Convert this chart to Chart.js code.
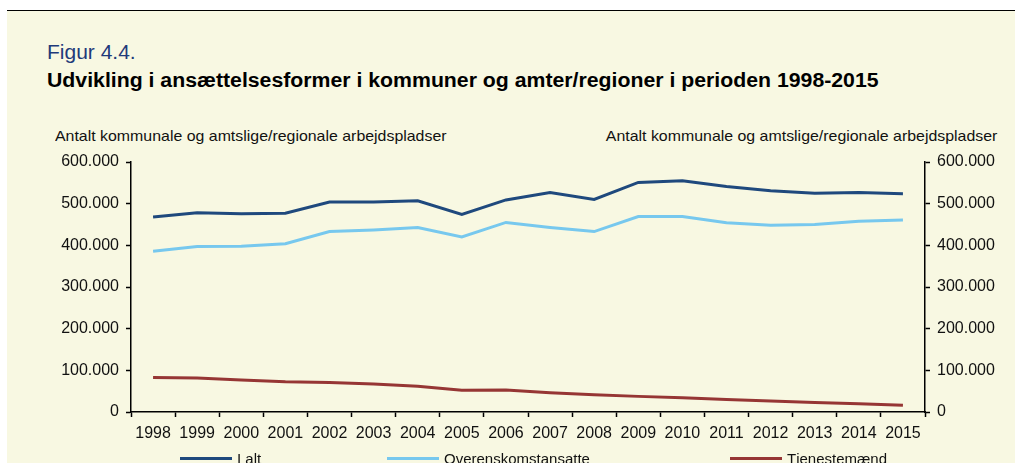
<!DOCTYPE html>
<html>
<head>
<meta charset="utf-8">
<script src="https://cdn.jsdelivr.net/npm/chart.js@4"></script>
<style>
  body { margin: 0; background: #fff; font-family: "Liberation Sans", Arial, sans-serif; }
  #topline { position: absolute; left: 7px; top: 10px; width: 1008px; height: 1px; background: #000; }
  #panel { position: absolute; left: 7px; top: 11px; width: 1008px; height: 452px; background: #f8f8e2; }
  .txt { position: absolute; white-space: nowrap; color: #000; line-height: normal; }
  #fig { left: 47px; top: 40px; font-size: 21px; color: #1f3a7a; }
  #title { left: 47px; top: 69px; font-size: 19.5px; font-weight: bold; transform: scaleX(1.09); transform-origin: left top; }
  .ytitle { top: 127px; font-size: 15px; color: #111; }
  #yl { left: 55px; transform: scaleX(1.06); transform-origin: left top; }
  #yr { right: 18px; transform: scaleX(1.06); transform-origin: right top; }
  #chart { position: absolute; left: 0; top: 0; }
  .leg { position: absolute; top: 450px; font-size: 15px; color: #111; }
  .leg i { display: inline-block; width: 52px; height: 3px; vertical-align: middle; margin-right: 5px; position: relative; top: -2px; }
</style>
</head>
<body>
<div id="topline"></div>
<div id="panel"></div>
<div class="txt" id="fig">Figur 4.4.</div>
<div class="txt" id="title">Udvikling i ansættelsesformer i kommuner og amter/regioner i perioden 1998-2015</div>
<div class="txt ytitle" id="yl">Antalt kommunale og amtslige/regionale arbejdspladser</div>
<div class="txt ytitle" id="yr">Antalt kommunale og amtslige/regionale arbejdspladser</div>
<canvas id="chart" width="1015" height="463"></canvas>
<div class="leg" style="left:180px"><i style="background:#1f497d"></i>I alt</div>
<div class="leg" style="left:387px"><i style="background:#77c8ee"></i>Overenskomstansatte</div>
<div class="leg" style="left:730px"><i style="background:#963634"></i>Tjenestemænd</div>
<script>
const years = ["1998","1999","2000","2001","2002","2003","2004","2005","2006","2007","2008","2009","2010","2011","2012","2013","2014","2015"];
const ialt = [468000, 478000, 476000, 477000, 504000, 504000, 507000, 474000, 509000, 527000, 510000, 551000, 555000, 541000, 531000, 525000, 527000, 524000];
const overens = [386000, 397000, 398000, 404000, 433000, 437000, 443000, 420000, 455000, 443000, 433000, 469000, 469000, 454000, 448000, 450000, 458000, 461000];
const tjeneste = [83000, 81500, 77000, 72500, 71000, 67000, 62000, 52000, 52500, 46000, 41500, 37500, 34000, 30000, 26500, 23000, 20000, 16000];
const yMax = 600000;
const yStep = 100000;

const fmt = v => v === 0 ? "0" : v.toLocaleString("de-DE");
const tickFont = { family: "Liberation Sans", size: 16 };

function yAxis(pos, w) {
  return {
    type: "linear",
    position: pos,
    min: 0,
    max: yMax,
    ticks: { stepSize: yStep, callback: fmt, font: tickFont, color: "#111", padding: 7 },
    grid: { drawOnChartArea: false, drawTicks: true, tickLength: 5, color: "#000", tickWidth: 1.5 },
    border: { display: true, color: "#000", width: 1.5 },
    afterFit(scale) { scale.width = w; scale.paddingTop = 0; scale.paddingBottom = 0; }
  };
}

const ds = (label, data, color) => ({
  label, data, borderColor: color, backgroundColor: color,
  borderWidth: 3, pointRadius: 0, tension: 0, fill: false, yAxisID: "y"
});

new Chart(document.getElementById("chart"), {
  type: "line",
  data: {
    labels: years,
    datasets: [
      ds("I alt", ialt, "#1f497d"),
      ds("Overenskomstansatte", overens, "#77c8ee"),
      ds("Tjenestemænd", tjeneste, "#963634")
    ]
  },
  options: {
    responsive: false,
    animation: false,
    devicePixelRatio: 1,
    layout: { padding: { top: 162, left: 0, right: 0, bottom: 0 } },
    plugins: { legend: { display: false }, tooltip: { enabled: false } },
    scales: {
      x: {
        offset: true,
        ticks: { font: tickFont, color: "#111", padding: 7, maxRotation: 0, autoSkip: false },
        grid: { offset: true, drawOnChartArea: false, drawTicks: true, tickLength: 5, color: "#000", tickWidth: 1.5 },
        border: { display: true, color: "#000", width: 1.5 },
        afterFit(scale) { scale.height = 51; scale.paddingLeft = 0; scale.paddingRight = 0; }
      },
      y: yAxis("left", 131),
      y2: yAxis("right", 90)
    }
  }
});
</script>
</body>
</html>
